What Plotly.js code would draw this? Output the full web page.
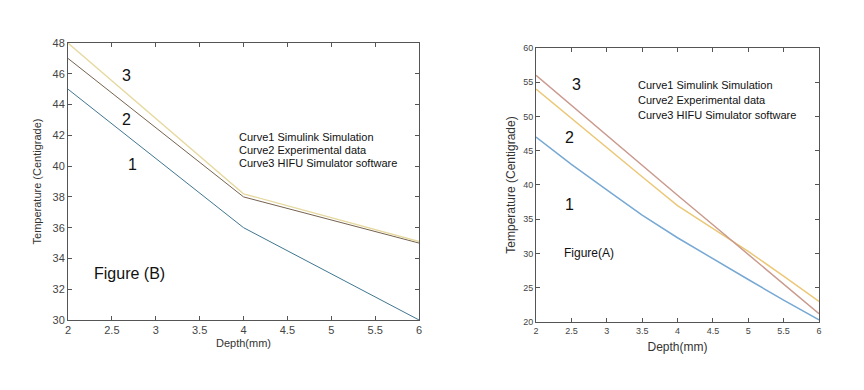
<!DOCTYPE html>
<html>
<head>
<meta charset="utf-8">
<script src="https://cdn.plot.ly/plotly-3.0.1.min.js"></script>
<style>
  body { margin: 0; background: #fff; }
  #chart { width: 864px; height: 390px; }
</style>
</head>
<body>
<div id="chart"></div>
<script>
// Figure (B) - left panel
var depthB = [2, 4, 6];
var curve1B = [45, 36, 30];
var curve2B = [47, 38, 35];
var curve3B = [48, 38.2, 35.1];

// Figure (A) - right panel
var depthA = [2, 2.5, 3, 3.5, 4, 4.5, 5, 5.5, 6];
var curve1A = [47, 43, 39.3, 35.6, 32.3, 29.2, 26.2, 23.2, 20.3];
var curve2A = [54, 49.7, 45.5, 41.2, 37, 33.6, 30.3, 26.7, 23];
var curve3A = [56, 51.6, 47.2, 42.9, 38.5, 34.2, 29.9, 25.5, 21.2];

var legendLines = ["Curve1 Simulink Simulation", "Curve2 Experimental data", "Curve3 HIFU Simulator software"];

var traces = [
  {x: depthB, y: curve1B, mode: "lines", line: {color: "#3f7690", width: 1}, xaxis: "x", yaxis: "y"},
  {x: depthB, y: curve2B, mode: "lines", line: {color: "#75624f", width: 1}, xaxis: "x", yaxis: "y"},
  {x: depthB, y: curve3B, mode: "lines", line: {color: "#e6d9a0", width: 1.3}, xaxis: "x", yaxis: "y"},
  {x: depthA, y: curve1A, mode: "lines", line: {color: "#77a9d4", width: 1.5}, xaxis: "x2", yaxis: "y2"},
  {x: depthA, y: curve2A, mode: "lines", line: {color: "#ebc877", width: 1.5}, xaxis: "x2", yaxis: "y2"},
  {x: depthA, y: curve3A, mode: "lines", line: {color: "#c99a8e", width: 1.5}, xaxis: "x2", yaxis: "y2"}
];

function axisStyle(extra) {
  var base = {
    showgrid: false, zeroline: false, showline: true, mirror: "ticks",
    linecolor: "#555", linewidth: 1, ticks: "inside", ticklen: 4, tickcolor: "#555",
    tickfont: {family: "Arial, Liberation Sans, sans-serif", size: 11, color: "#444"}
  };
  for (var k in extra) base[k] = extra[k];
  return base;
}

var ann = [];
function txt(xr, yr, x, y, t, size, anchor) {
  ann.push({xref: xr, yref: yr, x: x, y: y, text: t, showarrow: false, xanchor: anchor || "center",
    font: {family: "Arial, Liberation Sans, sans-serif", size: size, color: "#111"}});
}
// left labels
txt("x", "y", 2.67, 45.9, "3", 16);
txt("x", "y", 2.67, 43.0, "2", 16);
txt("x", "y", 2.74, 40.1, "1", 16);
txt("x", "y", 3.93, 41.9, legendLines[0], 11, "left");
txt("x", "y", 3.93, 41.05, legendLines[1], 11, "left");
txt("x", "y", 3.93, 40.2, legendLines[2], 11, "left");
txt("x", "y", 2.27, 33.05, "Figure (B)", 16, "left");
// right labels
txt("x2", "y2", 2.57, 54.6, "3", 16);
txt("x2", "y2", 2.48, 47.0, "2", 16);
txt("x2", "y2", 2.48, 37.1, "1", 16);
txt("x2", "y2", 3.42, 54.6, legendLines[0], 11, "left");
txt("x2", "y2", 3.42, 52.4, legendLines[1], 11, "left");
txt("x2", "y2", 3.42, 50.2, legendLines[2], 11, "left");
txt("x2", "y2", 2.37, 30.1, "Figure(A)", 12, "left");

var layout = {
  width: 864, height: 390,
  margin: {l: 0, r: 0, t: 0, b: 0},
  paper_bgcolor: "#fff", plot_bgcolor: "#fff",
  showlegend: false,
  xaxis: axisStyle({domain: [0.0787, 0.485], range: [2, 6], dtick: 0.5, anchor: "y",
    title: {text: "Depth(mm)", font: {family: "Arial, Liberation Sans, sans-serif", size: 11, color: "#333"}, standoff: 4}}),
  yaxis: axisStyle({domain: [0.1795, 0.8897], range: [30, 48], dtick: 2, anchor: "x",
    title: {text: "Temperature (Centigrade)", font: {family: "Arial, Liberation Sans, sans-serif", size: 11, color: "#333"}, standoff: 8}}),
  xaxis2: axisStyle({domain: [0.6204, 0.9479], range: [2, 6], dtick: 0.5, anchor: "y2",
    tickfont: {family: "Arial, Liberation Sans, sans-serif", size: 9, color: "#444"},
    title: {text: "Depth(mm)", font: {family: "Arial, Liberation Sans, sans-serif", size: 12, color: "#333"}, standoff: 7}}),
  yaxis2: axisStyle({domain: [0.1744, 0.8769], range: [20, 60], dtick: 5, anchor: "x2",
    tickfont: {family: "Arial, Liberation Sans, sans-serif", size: 9, color: "#444"},
    title: {text: "Temperature (Centigrade)", font: {family: "Arial, Liberation Sans, sans-serif", size: 12, color: "#333"}, standoff: 4}}),
  annotations: ann
};

Plotly.newPlot("chart", traces, layout, {displayModeBar: false, staticPlot: true});
</script>
</body>
</html>
